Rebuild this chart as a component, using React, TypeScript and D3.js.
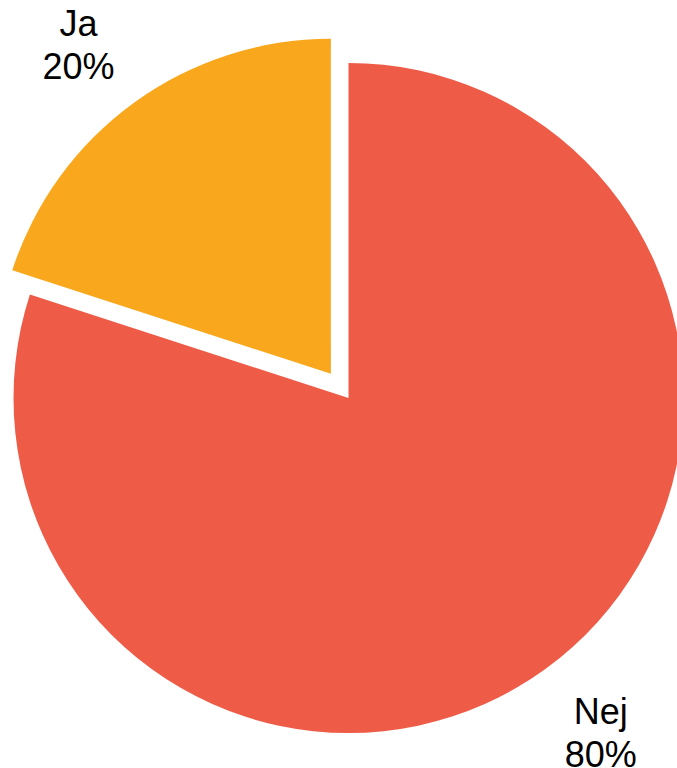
import * as d3 from "d3";

const width = 677;
const height = 768;

const categories = ["Nej", "Ja"];
const values = [80, 20];
const colors = ["#EE5C48", "#F9A81D"];
// which slices are pulled out of the pie
const exploded = [false, true];

const cx = 348.5;
const cy = 398;
const radius = 335;
const explodeBy = 30;
// labels sit just outside the pie, their nearest corner at this distance
const labelRadius = 368;
const fontSize = 36;
const lineGap = 43;

const App = () => {
  const total = d3.sum(values);
  const pie = d3.pie<number>().sort(null).value(d => d);
  const arcs = pie(values);
  const arc = d3.arc<d3.PieArcDatum<number>>().innerRadius(0).outerRadius(radius);

  return (
    <svg
      width={width}
      height={height}
      style={{ position: "absolute", left: 0, top: 0, display: "block" }}
      fontFamily="'Liberation Sans', Arial, sans-serif"
    >
      <g transform={`translate(${cx},${cy})`}>
        {arcs.map((a, i) => {
          const mid = (a.startAngle + a.endAngle) / 2;
          const sx = Math.sin(mid);
          const sy = -Math.cos(mid);
          const off = exploded[i] ? explodeBy : 0;
          const dx = sx * off;
          const dy = sy * off;
          // box centre, pushed away from the pie by half the box size
          const lx = dx + sx * labelRadius + Math.sign(sx) * 36;
          const ly = dy + sy * labelRadius + Math.sign(sy) * 34;
          const pct = Math.round((values[i] / total) * 100);
          return (
            <g key={categories[i]}>
              <path d={arc(a) ?? ""} fill={colors[i]} transform={`translate(${dx},${dy})`} />
              <text textAnchor="middle" fontSize={fontSize} fill="#000">
                <tspan x={lx} y={ly - 6}>{categories[i]}</tspan>
                <tspan x={lx} y={ly - 6 + lineGap}>{pct}%</tspan>
              </text>
            </g>
          );
        })}
      </g>
    </svg>
  );
};

export default App;
